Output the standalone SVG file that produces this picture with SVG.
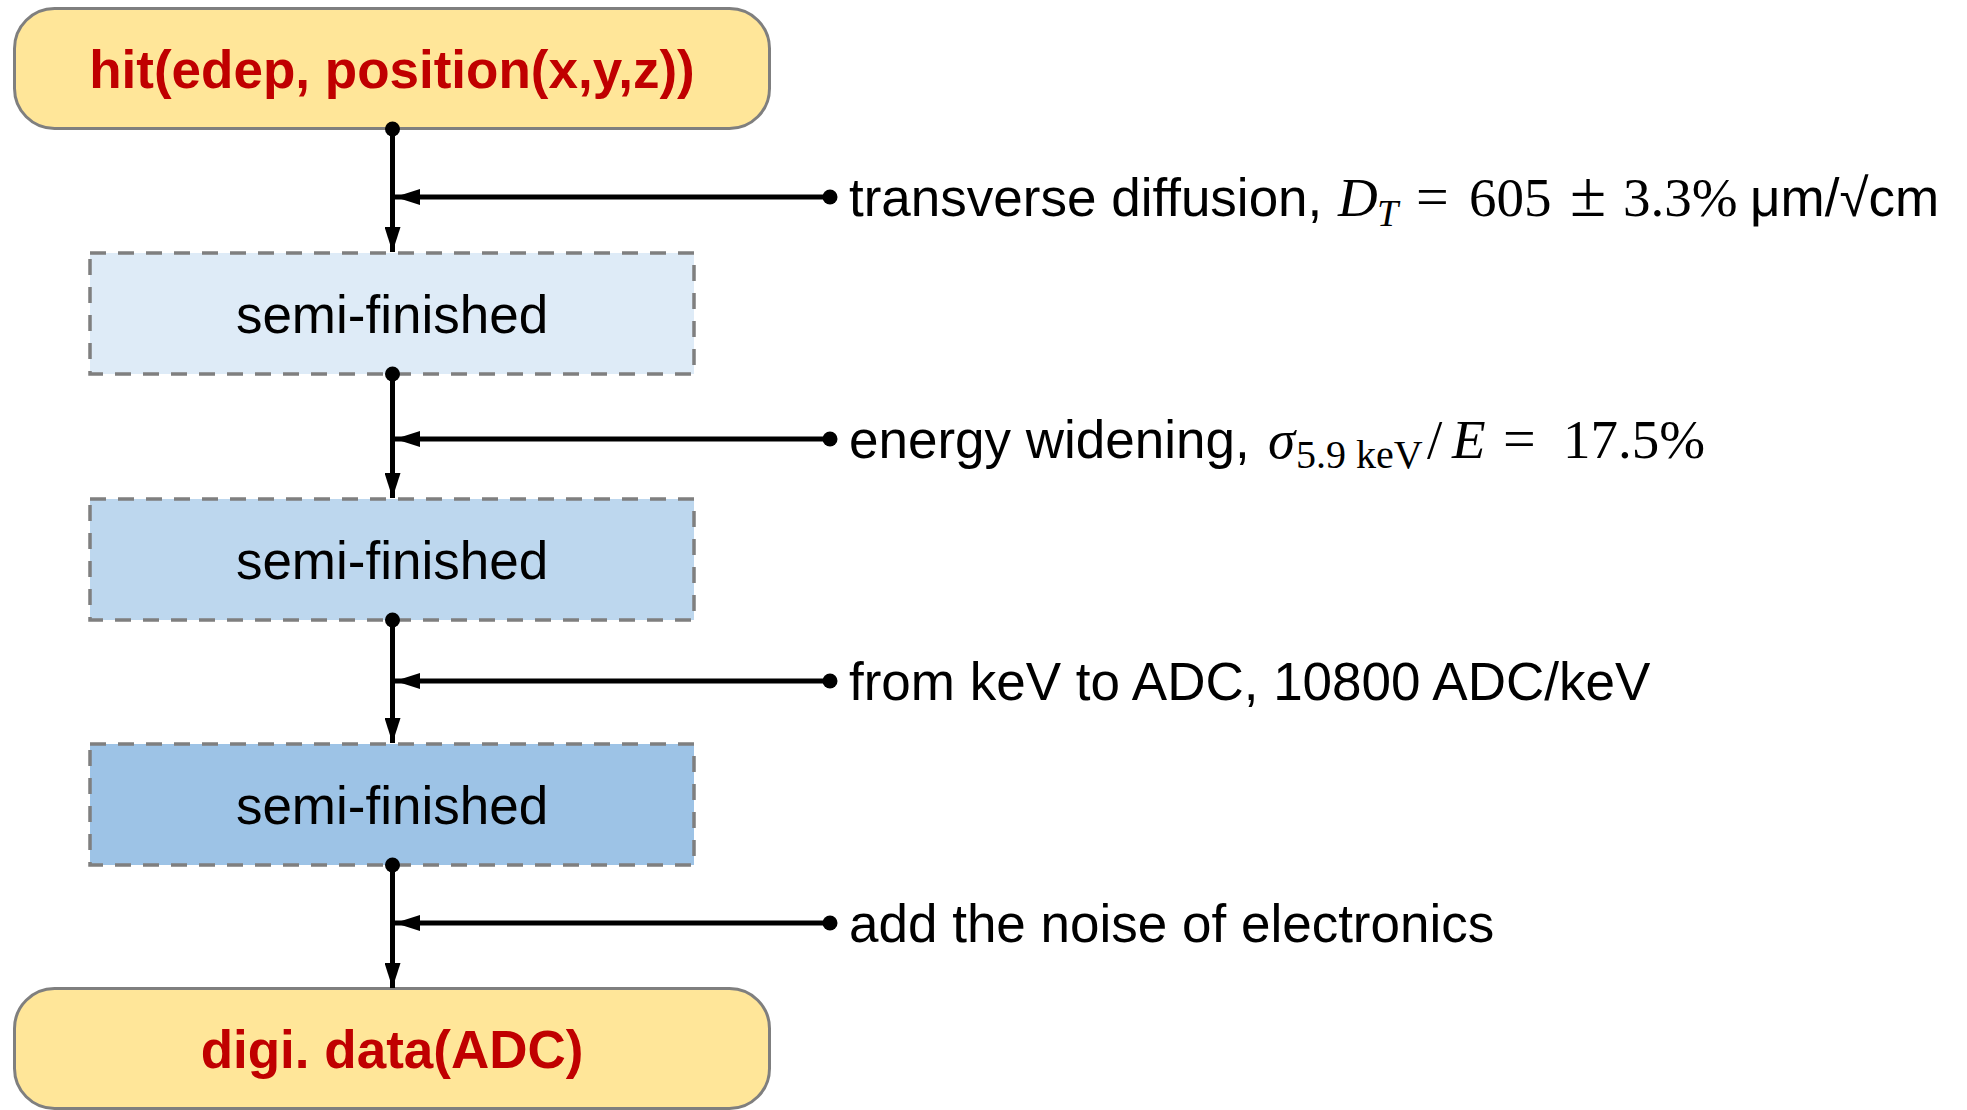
<svg xmlns="http://www.w3.org/2000/svg" width="1967" height="1110" viewBox="0 0 1967 1110">
  <style>
    .term { fill: #FFE699; stroke: #7F7F7F; stroke-width: 3; }
    .semi { stroke: #7F7F7F; stroke-width: 3.5; stroke-dasharray: 16 12; }
    .red { font-family: "Liberation Sans", Arial, sans-serif; font-weight: bold; font-size: 53px; fill: #C00000; text-anchor: middle; }
    .blk { font-family: "Liberation Sans", Arial, sans-serif; font-size: 53px; fill: #000; }
    .mid { text-anchor: middle; }
    .math { font-family: "Liberation Serif", "Times New Roman", serif; }
    .it { font-style: italic; }
    .conn { stroke: #000; stroke-width: 5; fill: none; marker-start: url(#dot); marker-end: url(#arrow); }
  </style>
  <defs>
    <marker id="arrow" markerUnits="userSpaceOnUse" viewBox="0 0 25 16" refX="25" refY="8" markerWidth="25" markerHeight="16" orient="auto">
      <path d="M0,0 L25,8 L0,16 z" fill="#000"/>
    </marker>
    <marker id="dot" markerUnits="userSpaceOnUse" viewBox="-8 -8 16 16" refX="0" refY="0" markerWidth="16" markerHeight="16" orient="auto">
      <circle cx="0" cy="0" r="7.5" fill="#000"/>
    </marker>
  </defs>
  <rect width="1967" height="1110" fill="#FFFFFF"/>

  <g id="node-hit">
    <rect class="term" x="14.5" y="8.5" width="755" height="120" rx="40" ry="40"/>
    <text class="red" x="392" y="88">hit(edep, position(x,y,z))</text>
  </g>
  <g id="node-semi1">
    <rect class="semi" x="90" y="253" width="604" height="121" fill="#DEEBF7"/>
    <text class="blk mid" x="392" y="333">semi-finished</text>
  </g>
  <g id="node-semi2">
    <rect class="semi" x="90" y="499" width="604" height="121" fill="#BDD7EE"/>
    <text class="blk mid" x="392" y="579">semi-finished</text>
  </g>
  <g id="node-semi3">
    <rect class="semi" x="90" y="744" width="604" height="121" fill="#9DC3E6"/>
    <text class="blk mid" x="392" y="824">semi-finished</text>
  </g>
  <g id="node-digi">
    <rect class="term" x="14.5" y="988.5" width="755" height="120" rx="40" ry="40"/>
    <text class="red" x="392" y="1068">digi. data(ADC)</text>
  </g>

  <g id="connectors">
    <path class="conn" d="M392.5,129 L392.5,252"/>
    <path class="conn" d="M830,197 L395,197"/>
    <path class="conn" d="M392.5,374 L392.5,498"/>
    <path class="conn" d="M830,439 L395,439"/>
    <path class="conn" d="M392.5,620 L392.5,743"/>
    <path class="conn" d="M830,681 L395,681"/>
    <path class="conn" d="M392.5,865 L392.5,988"/>
    <path class="conn" d="M830,923 L395,923"/>
  </g>

  <g id="labels">
    <text class="blk" x="849" y="216">transverse diffusion, <tspan class="math it" x="1338" font-size="55">D</tspan><tspan class="math it" font-size="38" x="1377" dy="10">T</tspan><tspan class="math" font-size="58" x="1416" dy="-10">=</tspan><tspan class="math" font-size="55" x="1469">605</tspan><tspan class="math" font-size="66" x="1570">±</tspan><tspan class="math" font-size="55" x="1623">3.3%</tspan><tspan x="1750">μm/√cm</tspan></text>
    <text class="blk" x="849" y="458">energy widening, <tspan class="math it" font-size="55" x="1268">σ</tspan><tspan class="math" font-size="40" x="1296" dy="10">5.9 keV</tspan><tspan class="math" font-size="55" x="1427" dy="-10">/</tspan><tspan class="math it" font-size="55" x="1452">E</tspan><tspan class="math" font-size="58" x="1503">=</tspan><tspan class="math" font-size="55" x="1563">17.5%</tspan></text>
    <text class="blk" x="849" y="700">from keV to ADC, 10800 ADC/keV</text>
    <text class="blk" x="849" y="942">add the noise of electronics</text>
  </g>
</svg>
